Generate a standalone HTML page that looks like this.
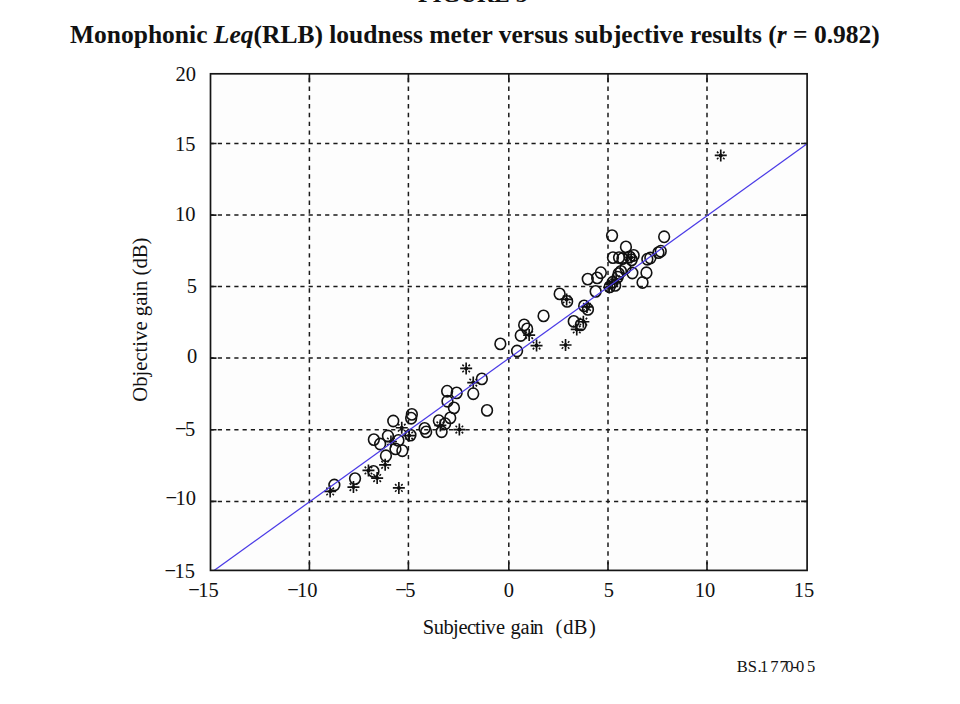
<!DOCTYPE html>
<html><head><meta charset="utf-8"><style>
html,body{margin:0;padding:0;background:#fff;width:960px;height:704px;overflow:hidden}
svg{display:block}
</style></head><body>
<svg width="960" height="704" viewBox="0 0 960 704">
<defs><clipPath id="cp"><rect x="210.5" y="73.8" width="596.6" height="496.59999999999997"/></clipPath></defs>
<rect x="210.5" y="73.8" width="596.6" height="496.59999999999997" fill="#fdfdfd"/><g stroke="#1a1a1a" stroke-width="1.5" fill="none"><g stroke-dasharray="4.2 4.055" stroke-dashoffset="0.955"><line x1="210.5" y1="143.5" x2="807.1" y2="143.5"/><line x1="210.5" y1="215.1" x2="807.1" y2="215.1"/><line x1="210.5" y1="286.5" x2="807.1" y2="286.5"/><line x1="210.5" y1="358.1" x2="807.1" y2="358.1"/><line x1="210.5" y1="429.8" x2="807.1" y2="429.8"/><line x1="210.5" y1="501.4" x2="807.1" y2="501.4"/></g><g stroke-dasharray="4.4 4.37" stroke-dashoffset="4.79"><line x1="309.4" y1="73.8" x2="309.4" y2="570.4"/><line x1="408.4" y1="73.8" x2="408.4" y2="570.4"/><line x1="508.8" y1="73.8" x2="508.8" y2="570.4"/><line x1="608.0" y1="73.8" x2="608.0" y2="570.4"/><line x1="707.0" y1="73.8" x2="707.0" y2="570.4"/></g></g><path stroke="#1a1a1a" stroke-width="1.6" fill="none" d="M309.4 73.8v8.5M309.4 570.4v-8.5M408.4 73.8v8.5M408.4 570.4v-8.5M508.8 73.8v8.5M508.8 570.4v-8.5M608.0 73.8v8.5M608.0 570.4v-8.5M707.0 73.8v8.5M707.0 570.4v-8.5M210.5 143.5h6M807.1 143.5h-6M210.5 215.1h6M807.1 215.1h-6M210.5 286.5h6M807.1 286.5h-6M210.5 358.1h6M807.1 358.1h-6M210.5 429.8h6M807.1 429.8h-6M210.5 501.4h6M807.1 501.4h-6"/><g stroke="#111" stroke-width="1.6" fill="none"><ellipse cx="612.05" cy="235.6" rx="5.35" ry="5.65"/><ellipse cx="664.15" cy="236.8" rx="5.35" ry="5.65"/><ellipse cx="625.95" cy="246.9" rx="5.35" ry="5.65"/><ellipse cx="612.95" cy="257.6" rx="5.35" ry="5.65"/><ellipse cx="619.05" cy="257.6" rx="5.35" ry="5.65"/><ellipse cx="622.45" cy="258.6" rx="5.35" ry="5.65"/><ellipse cx="629.65" cy="256.9" rx="5.35" ry="5.65"/><ellipse cx="633.65" cy="255.4" rx="5.35" ry="5.65"/><ellipse cx="631.65" cy="259.9" rx="5.35" ry="5.65"/><ellipse cx="647.35" cy="259.2" rx="5.35" ry="5.65"/><ellipse cx="650.35" cy="258.0" rx="5.35" ry="5.65"/><ellipse cx="658.45" cy="252.6" rx="5.35" ry="5.65"/><ellipse cx="660.75" cy="251.2" rx="5.35" ry="5.65"/><ellipse cx="646.45" cy="272.8" rx="5.35" ry="5.65"/><ellipse cx="642.55" cy="282.5" rx="5.35" ry="5.65"/><ellipse cx="632.35" cy="273.0" rx="5.35" ry="5.65"/><ellipse cx="600.85" cy="272.7" rx="5.35" ry="5.65"/><ellipse cx="597.15" cy="277.9" rx="5.35" ry="5.65"/><ellipse cx="587.75" cy="279.1" rx="5.35" ry="5.65"/><ellipse cx="595.65" cy="291.4" rx="5.35" ry="5.65"/><ellipse cx="612.65" cy="282.3" rx="5.35" ry="5.65"/><ellipse cx="617.75" cy="277.1" rx="5.35" ry="5.65"/><ellipse cx="620.95" cy="271.4" rx="5.35" ry="5.65"/><ellipse cx="615.15" cy="285.4" rx="5.35" ry="5.65"/><ellipse cx="609.65" cy="286.9" rx="5.35" ry="5.65"/><ellipse cx="618.65" cy="273.6" rx="5.35" ry="5.65"/><ellipse cx="625.45" cy="268.1" rx="5.35" ry="5.65"/><ellipse cx="559.65" cy="293.9" rx="5.35" ry="5.65"/><ellipse cx="567.15" cy="301.4" rx="5.35" ry="5.65"/><ellipse cx="584.15" cy="305.9" rx="5.35" ry="5.65"/><ellipse cx="587.95" cy="309.4" rx="5.35" ry="5.65"/><ellipse cx="543.55" cy="315.9" rx="5.35" ry="5.65"/><ellipse cx="573.75" cy="321.4" rx="5.35" ry="5.65"/><ellipse cx="580.75" cy="324.9" rx="5.35" ry="5.65"/><ellipse cx="524.15" cy="324.9" rx="5.35" ry="5.65"/><ellipse cx="527.15" cy="328.9" rx="5.35" ry="5.65"/><ellipse cx="520.75" cy="335.5" rx="5.35" ry="5.65"/><ellipse cx="500.35" cy="343.9" rx="5.35" ry="5.65"/><ellipse cx="517.05" cy="351.0" rx="5.35" ry="5.65"/><ellipse cx="481.85" cy="378.9" rx="5.35" ry="5.65"/><ellipse cx="473.25" cy="393.7" rx="5.35" ry="5.65"/><ellipse cx="487.05" cy="410.4" rx="5.35" ry="5.65"/><ellipse cx="447.15" cy="391.2" rx="5.35" ry="5.65"/><ellipse cx="456.65" cy="392.9" rx="5.35" ry="5.65"/><ellipse cx="453.95" cy="407.9" rx="5.35" ry="5.65"/><ellipse cx="447.45" cy="401.2" rx="5.35" ry="5.65"/><ellipse cx="450.25" cy="417.9" rx="5.35" ry="5.65"/><ellipse cx="445.15" cy="423.7" rx="5.35" ry="5.65"/><ellipse cx="438.85" cy="420.7" rx="5.35" ry="5.65"/><ellipse cx="441.65" cy="431.7" rx="5.35" ry="5.65"/><ellipse cx="424.65" cy="428.4" rx="5.35" ry="5.65"/><ellipse cx="426.15" cy="431.9" rx="5.35" ry="5.65"/><ellipse cx="411.85" cy="414.4" rx="5.35" ry="5.65"/><ellipse cx="411.15" cy="418.2" rx="5.35" ry="5.65"/><ellipse cx="410.45" cy="435.1" rx="5.35" ry="5.65"/><ellipse cx="393.25" cy="421.0" rx="5.35" ry="5.65"/><ellipse cx="387.95" cy="436.0" rx="5.35" ry="5.65"/><ellipse cx="373.85" cy="439.6" rx="5.35" ry="5.65"/><ellipse cx="380.15" cy="444.0" rx="5.35" ry="5.65"/><ellipse cx="395.45" cy="448.9" rx="5.35" ry="5.65"/><ellipse cx="402.35" cy="450.7" rx="5.35" ry="5.65"/><ellipse cx="398.45" cy="440.4" rx="5.35" ry="5.65"/><ellipse cx="385.95" cy="455.8" rx="5.35" ry="5.65"/><ellipse cx="373.45" cy="471.4" rx="5.35" ry="5.65"/><ellipse cx="355.05" cy="478.6" rx="5.35" ry="5.65"/><ellipse cx="334.35" cy="485.0" rx="5.35" ry="5.65"/></g><path stroke="#111" stroke-width="1.65" fill="none" d="M714.75 155.4h12.0M720.75 149.40v12.0M625.15 257.4h12.0M631.15 251.40v12.0M606.15 283.4h12.0M612.15 277.40v12.0M610.15 279.4h12.0M616.15 273.40v12.0M603.15 287.4h12.0M609.15 281.40v12.0M560.65 299.4h12.0M566.65 293.40v12.0M580.95 306.9h12.0M586.95 300.90v12.0M577.35 321.7h12.0M583.35 315.70v12.0M570.75 329.4h12.0M576.75 323.40v12.0M559.55 345.0h12.0M565.55 339.00v12.0M523.15 335.1h12.0M529.15 329.10v12.0M530.55 345.6h12.0M536.55 339.60v12.0M460.15 368.4h12.0M466.15 362.40v12.0M467.25 382.6h12.0M473.25 376.60v12.0M324.15 491.4h12.0M330.15 485.40v12.0M347.45 487.1h12.0M353.45 481.10v12.0M362.45 470.4h12.0M368.45 464.40v12.0M371.15 478.1h12.0M377.15 472.10v12.0M379.15 464.8h12.0M385.15 458.80v12.0M392.85 487.9h12.0M398.85 481.90v12.0M395.75 427.7h12.0M401.75 421.70v12.0M453.35 429.6h12.0M459.35 423.60v12.0M434.35 425.4h12.0M440.35 419.40v12.0M384.95 441.5h12.0M390.95 435.50v12.0M403.15 435.6h12.0M409.15 429.60v12.0"/><path stroke="#111" stroke-width="1.5" fill="none" d="M718.45 153.10L716.95 151.60M718.45 157.70L716.95 159.20M723.05 153.10L724.55 151.60M723.05 157.70L724.55 159.20M628.85 255.10L627.35 253.60M628.85 259.70L627.35 261.20M633.45 255.10L634.95 253.60M633.45 259.70L634.95 261.20M609.85 281.10L608.35 279.60M609.85 285.70L608.35 287.20M614.45 281.10L615.95 279.60M614.45 285.70L615.95 287.20M613.85 277.10L612.35 275.60M613.85 281.70L612.35 283.20M618.45 277.10L619.95 275.60M618.45 281.70L619.95 283.20M606.85 285.10L605.35 283.60M606.85 289.70L605.35 291.20M611.45 285.10L612.95 283.60M611.45 289.70L612.95 291.20M564.35 297.10L562.85 295.60M564.35 301.70L562.85 303.20M568.95 297.10L570.45 295.60M568.95 301.70L570.45 303.20M584.65 304.60L583.15 303.10M584.65 309.20L583.15 310.70M589.25 304.60L590.75 303.10M589.25 309.20L590.75 310.70M581.05 319.40L579.55 317.90M581.05 324.00L579.55 325.50M585.65 319.40L587.15 317.90M585.65 324.00L587.15 325.50M574.45 327.10L572.95 325.60M574.45 331.70L572.95 333.20M579.05 327.10L580.55 325.60M579.05 331.70L580.55 333.20M563.25 342.70L561.75 341.20M563.25 347.30L561.75 348.80M567.85 342.70L569.35 341.20M567.85 347.30L569.35 348.80M526.85 332.80L525.35 331.30M526.85 337.40L525.35 338.90M531.45 332.80L532.95 331.30M531.45 337.40L532.95 338.90M534.25 343.30L532.75 341.80M534.25 347.90L532.75 349.40M538.85 343.30L540.35 341.80M538.85 347.90L540.35 349.40M463.85 366.10L462.35 364.60M463.85 370.70L462.35 372.20M468.45 366.10L469.95 364.60M468.45 370.70L469.95 372.20M470.95 380.30L469.45 378.80M470.95 384.90L469.45 386.40M475.55 380.30L477.05 378.80M475.55 384.90L477.05 386.40M327.85 489.10L326.35 487.60M327.85 493.70L326.35 495.20M332.45 489.10L333.95 487.60M332.45 493.70L333.95 495.20M351.15 484.80L349.65 483.30M351.15 489.40L349.65 490.90M355.75 484.80L357.25 483.30M355.75 489.40L357.25 490.90M366.15 468.10L364.65 466.60M366.15 472.70L364.65 474.20M370.75 468.10L372.25 466.60M370.75 472.70L372.25 474.20M374.85 475.80L373.35 474.30M374.85 480.40L373.35 481.90M379.45 475.80L380.95 474.30M379.45 480.40L380.95 481.90M382.85 462.50L381.35 461.00M382.85 467.10L381.35 468.60M387.45 462.50L388.95 461.00M387.45 467.10L388.95 468.60M396.55 485.60L395.05 484.10M396.55 490.20L395.05 491.70M401.15 485.60L402.65 484.10M401.15 490.20L402.65 491.70M399.45 425.40L397.95 423.90M399.45 430.00L397.95 431.50M404.05 425.40L405.55 423.90M404.05 430.00L405.55 431.50M457.05 427.30L455.55 425.80M457.05 431.90L455.55 433.40M461.65 427.30L463.15 425.80M461.65 431.90L463.15 433.40M438.05 423.10L436.55 421.60M438.05 427.70L436.55 429.20M442.65 423.10L444.15 421.60M442.65 427.70L444.15 429.20M388.65 439.20L387.15 437.70M388.65 443.80L387.15 445.30M393.25 439.20L394.75 437.70M393.25 443.80L394.75 445.30M406.85 433.30L405.35 431.80M406.85 437.90L405.35 439.40M411.45 433.30L412.95 431.80M411.45 437.90L412.95 439.40"/><g fill="#111"><circle cx="720.75" cy="155.4" r="2.0"/><circle cx="631.15" cy="257.4" r="2.0"/><circle cx="612.15" cy="283.4" r="2.0"/><circle cx="616.15" cy="279.4" r="2.0"/><circle cx="609.15" cy="287.4" r="2.0"/><circle cx="566.65" cy="299.4" r="2.0"/><circle cx="586.95" cy="306.9" r="2.0"/><circle cx="583.35" cy="321.7" r="2.0"/><circle cx="576.75" cy="329.4" r="2.0"/><circle cx="565.55" cy="345.0" r="2.0"/><circle cx="529.15" cy="335.1" r="2.0"/><circle cx="536.55" cy="345.6" r="2.0"/><circle cx="466.15" cy="368.4" r="2.0"/><circle cx="473.25" cy="382.6" r="2.0"/><circle cx="330.15" cy="491.4" r="2.0"/><circle cx="353.45" cy="487.1" r="2.0"/><circle cx="368.45" cy="470.4" r="2.0"/><circle cx="377.15" cy="478.1" r="2.0"/><circle cx="385.15" cy="464.8" r="2.0"/><circle cx="398.85" cy="487.9" r="2.0"/><circle cx="401.75" cy="427.7" r="2.0"/><circle cx="459.35" cy="429.6" r="2.0"/><circle cx="440.35" cy="425.4" r="2.0"/><circle cx="390.95" cy="441.5" r="2.0"/><circle cx="409.15" cy="435.6" r="2.0"/></g><line x1="209.88" y1="573.51" x2="806.76" y2="144.06" stroke="#4a3ae6" stroke-width="1.25" clip-path="url(#cp)"/><rect x="210.5" y="73.8" width="596.6" height="496.59999999999997" fill="none" stroke="#151515" stroke-width="1.7"/>
<g fill="#111"><text x="70" y="43.0" style="font-family:'Liberation Serif',serif;font-weight:bold;font-size:25.5px">Monophonic <tspan font-style="italic">Leq</tspan>(RLB) loudness meter versus subjective results (<tspan font-style="italic">r</tspan> = 0.982)</text><text x="472.8" y="2.4" text-anchor="middle" style="font-family:'Liberation Serif',serif;font-weight:bold;font-size:23.6px">FIGURE 5</text><text transform="translate(196.00 80.63) scale(1 1.05)" text-anchor="end" style="font-family:'Liberation Serif',serif;font-size:20.5px">20</text><text transform="translate(195.40 150.98) scale(1 1.05)" text-anchor="end" style="font-family:'Liberation Serif',serif;font-size:20.5px">15</text><text transform="translate(195.60 220.98) scale(1 1.05)" text-anchor="end" style="font-family:'Liberation Serif',serif;font-size:20.5px">10</text><text transform="translate(197.00 293.38) scale(1 1.05)" text-anchor="end" style="font-family:'Liberation Serif',serif;font-size:20.5px">5</text><text transform="translate(197.20 363.08) scale(1 1.05)" text-anchor="end" style="font-family:'Liberation Serif',serif;font-size:20.5px">0</text><text transform="translate(195.20 435.68) scale(1 1.05)" text-anchor="end" style="font-family:'Liberation Serif',serif;font-size:20.5px">−<tspan dx="-1.6">5</tspan></text><text transform="translate(195.90 505.08) scale(1 1.05)" text-anchor="end" style="font-family:'Liberation Serif',serif;font-size:20.5px">−<tspan dx="-1.6">10</tspan></text><text transform="translate(195.00 578.03) scale(1 1.05)" text-anchor="end" style="font-family:'Liberation Serif',serif;font-size:20.5px">−<tspan dx="-1.6">15</tspan></text><text transform="translate(218.80 596.5) scale(1 1.05)" text-anchor="end" style="font-family:'Liberation Serif',serif;font-size:20.5px">−<tspan dx="-1.6">15</tspan></text><text transform="translate(317.60 596.5) scale(1 1.05)" text-anchor="end" style="font-family:'Liberation Serif',serif;font-size:20.5px">−<tspan dx="-1.6">10</tspan></text><text transform="translate(415.50 596.5) scale(1 1.05)" text-anchor="end" style="font-family:'Liberation Serif',serif;font-size:20.5px">−<tspan dx="-1.6">5</tspan></text><text transform="translate(514.10 596.5) scale(1 1.05)" text-anchor="end" style="font-family:'Liberation Serif',serif;font-size:20.5px">0</text><text transform="translate(613.90 596.5) scale(1 1.05)" text-anchor="end" style="font-family:'Liberation Serif',serif;font-size:20.5px">5</text><text transform="translate(715.30 596.5) scale(1 1.05)" text-anchor="end" style="font-family:'Liberation Serif',serif;font-size:20.5px">10</text><text transform="translate(814.30 596.5) scale(1 1.05)" text-anchor="end" style="font-family:'Liberation Serif',serif;font-size:20.5px">15</text><text x="422.8 433.8 443.4 452.9 458.6 467.0 475.1 480.5 485.6 496.1 510.5 520.6 529.4 533.2 555.6 563.2 573.7 589.0" y="633.5" style="font-family:'Liberation Serif',serif;font-size:20.5px">Subjectivegain(dB)</text><text transform="translate(147.4,401.8) rotate(-90)" x="0" y="0" style="font-family:'Liberation Serif',serif;font-size:20.7px">Objective gain (dB)</text><text x="736.7 747.8 757.6 760.1 770.3 779.6 785.3 792.3 796.1 807.0" y="671.8" style="font-family:'Liberation Serif',serif;font-size:16.5px">BS.1770-05</text></g>
</svg>
</body></html>
